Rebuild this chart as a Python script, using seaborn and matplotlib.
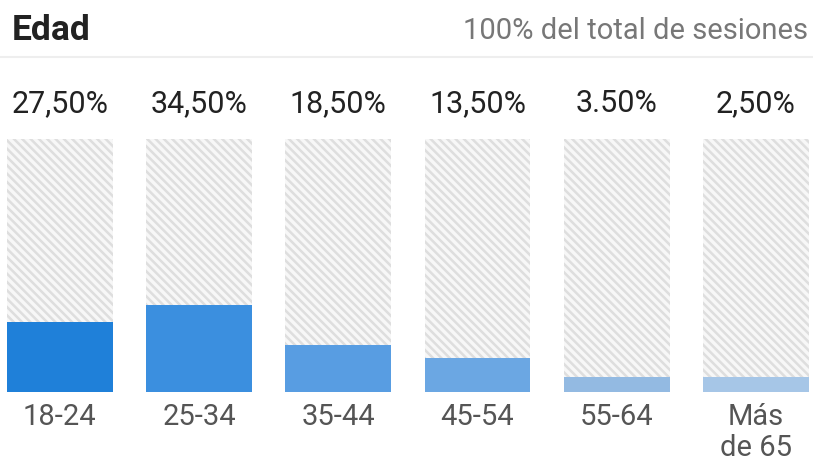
import numpy as np
import matplotlib
matplotlib.use("Agg")
import matplotlib.pyplot as plt
import seaborn as sns

# datos
edades = ["18-24", "25-34", "35-44", "45-54", "55-64", "Más\nde 65"]
porcentajes = [27.5, 34.5, 18.5, 13.5, 3.5, 2.5]
etiquetas = ["27,50%", "34,50%", "18,50%", "13,50%", "3.50%", "2,50%"]
colores = ["#1f80d9", "#3b8fdf", "#589de2", "#6ba7e3", "#93bae2", "#a6c6e7"]
total = [100] * len(edades)

sns.set_style("white")
plt.rcParams["font.family"] = ["Roboto", "DejaVu Sans"]
plt.rcParams["hatch.linewidth"] = 1.8

fig = plt.figure(figsize=(8.13, 4.64), dpi=100)
ax = fig.add_axes([0, 1 - 393 / 464, 1, (393 - 140) / 464])

# fondo rayado
sns.barplot(x=edades, y=total, color="#f7f7f7", width=0.76, ax=ax,
            hatch="\\\\\\\\", edgecolor="#dedede", linewidth=0, saturation=1)

# barras de valor (altura mínima visible de 6 %)
alturas = np.maximum(porcentajes, 6)
sns.barplot(x=edades, y=alturas, hue=edades, palette=colores, legend=False,
            width=0.76, ax=ax, linewidth=0, saturation=1)

ax.set_ylim(0, 100)
ax.set_xlim(-0.43, 5.41)
ax.set_yticks([])
ax.set_xlabel("")
ax.set_ylabel("")
sns.despine(ax=ax, left=True, bottom=True)
ax.tick_params(axis="x", length=0, pad=7, labelsize=21, labelcolor="#555555")
for t in ax.get_xticklabels():
    t.set_linespacing(1.15)

# etiquetas de porcentaje
y_etiqueta = 100 + (140 - 104) / 253 * 100
for i, txt in enumerate(etiquetas):
    ax.text(i, y_etiqueta, txt, ha="center", va="center", fontsize=22,
            color="#222222")

# encabezado
fig.text(12 / 813, 1 - 31 / 464, "Edad", fontsize=25.5, fontweight="bold",
         color="#222222", ha="left", va="center")
fig.text(808 / 813, 1 - 31 / 464, "100% del total de sesiones", fontsize=21,
         color="#777777", ha="right", va="center")
fig.add_artist(plt.Line2D([0, 1], [1 - 58 / 464, 1 - 58 / 464],
                          color="#eeeeee", linewidth=1.5))

fig.savefig("out.png", dpi=100)
